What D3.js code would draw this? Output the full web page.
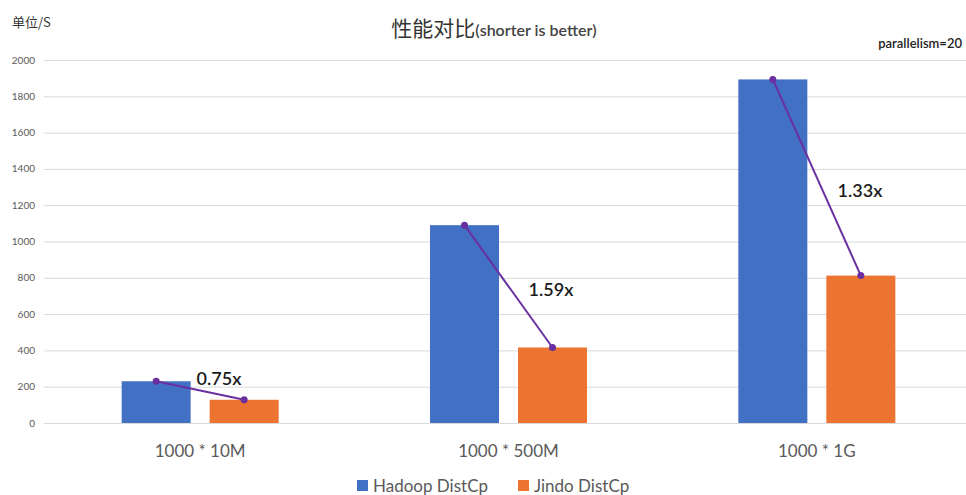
<!DOCTYPE html>
<html>
<head>
<meta charset="utf-8">
<script src="https://cdn.jsdelivr.net/npm/d3@7"></script>
<style>
  html, body { margin: 0; padding: 0; background: #fff; }
  svg { display: block; font-family: "Lato", "Noto Sans CJK SC", sans-serif; }
</style>
</head>
<body>
<svg id="chart" width="966" height="495"></svg>
<script>
const categories = ["1000 * 10M", "1000 * 500M", "1000 * 1G"];
const seriesNames = ["Hadoop DistCp", "Jindo DistCp"];
const hadoop = [230, 1090, 1893];
const jindo = [128, 416, 812];
const ratioLabels = ["0.75x", "1.59x", "1.33x"];
const yTicks = [0, 200, 400, 600, 800, 1000, 1200, 1400, 1600, 1800, 2000];
const colors = ["#4170c4", "#ec7430"];

const svg = d3.select("#chart");
const W = 966;

const x = d3.scaleBand().domain(categories).range([46, 971]);
const y = d3.scaleLinear().domain([0, 2000]).range([423, 60]);
const sub = d3.scaleBand().domain(seriesNames).range([0, 157]).paddingInner(0.216);

// gridlines
svg.append("g").selectAll("line").data(yTicks).join("line")
  .attr("x1", 44).attr("x2", W)
  .attr("y1", d => y(d) + 0.5).attr("y2", d => y(d) + 0.5)
  .attr("stroke", "#d9d9d9").attr("stroke-width", 1);

// y tick labels
svg.append("g").selectAll("text").data(yTicks).join("text")
  .attr("x", 35).attr("y", d => y(d) + 3.5)
  .attr("text-anchor", "end")
  .attr("font-size", 10).attr("fill", "#595959")
  .text(d => d);

// bars
const data = categories.map((c, i) => ({ c, vals: [hadoop[i], jindo[i]] }));
const groups = svg.append("g").selectAll("g").data(data).join("g")
  .attr("transform", d => `translate(${x(d.c) + x.bandwidth() / 2 - 78.5},0)`);
groups.selectAll("rect").data(d => d.vals.map((v, j) => ({ v, s: seriesNames[j], j })))
  .join("rect")
  .attr("x", d => sub(d.s))
  .attr("width", sub.bandwidth())
  .attr("y", d => y(d.v))
  .attr("height", d => y(0) - y(d.v))
  .attr("fill", d => colors[d.j]);

// connecting lines + dots
const lineColor = "#6a2fa0";
data.forEach((d, i) => {
  const x0 = x(d.c) + x.bandwidth() / 2 - 78.5;
  const p1 = [x0 + sub(seriesNames[0]) + sub.bandwidth() / 2, y(hadoop[i])];
  const p2 = [x0 + sub(seriesNames[1]) + sub.bandwidth() / 2, y(jindo[i])];
  svg.append("path").attr("d", d3.line()([p1, p2]))
    .attr("stroke", lineColor).attr("stroke-width", 2).attr("fill", "none");
  [p1, p2].forEach(p => svg.append("circle").attr("cx", p[0]).attr("cy", p[1]).attr("r", 3.5).attr("fill", lineColor));
});

// ratio labels
const labelPos = [[219, 385], [551, 296], [860, 197]];
svg.append("g").selectAll("text").data(ratioLabels).join("text")
  .attr("x", (d, i) => labelPos[i][0]).attr("y", (d, i) => labelPos[i][1])
  .attr("text-anchor", "middle")
  .attr("font-size", 18).attr("font-weight", 600).attr("fill", "#1a1a1a")
  .text(d => d);

// category labels
svg.append("g").selectAll("text").data(categories).join("text")
  .attr("x", d => x(d) + x.bandwidth() / 2).attr("y", 457)
  .attr("text-anchor", "middle")
  .attr("font-size", 17).attr("fill", "#595959")
  .text(d => d);

// title
const title = svg.append("text").attr("x", 494).attr("y", 36).attr("text-anchor", "middle").attr("fill", "#333");
title.append("tspan").attr("font-size", 21).attr("font-family", "Noto Sans CJK SC").text("性能对比");
title.append("tspan").attr("font-size", 16).attr("font-weight", 600).attr("fill", "#444").text("(shorter is better)");

svg.append("text").attr("x", 12).attr("y", 27).attr("font-size", 13).attr("fill", "#333")
  .attr("font-family", "Noto Sans CJK SC").text("单位/S");

svg.append("text").attr("x", 962).attr("y", 48).attr("text-anchor", "end")
  .attr("font-size", 13).attr("font-weight", 600).attr("fill", "#222").text("parallelism=20");

// legend
const legend = svg.append("g");
const legX = [357, 518];
seriesNames.forEach((s, i) => {
  legend.append("rect").attr("x", legX[i]).attr("y", 480).attr("width", 11).attr("height", 11).attr("fill", colors[i]);
  legend.append("text").attr("x", legX[i] + 16).attr("y", 492).attr("font-size", 17).attr("fill", "#595959").text(s);
});
</script>
</body>
</html>
